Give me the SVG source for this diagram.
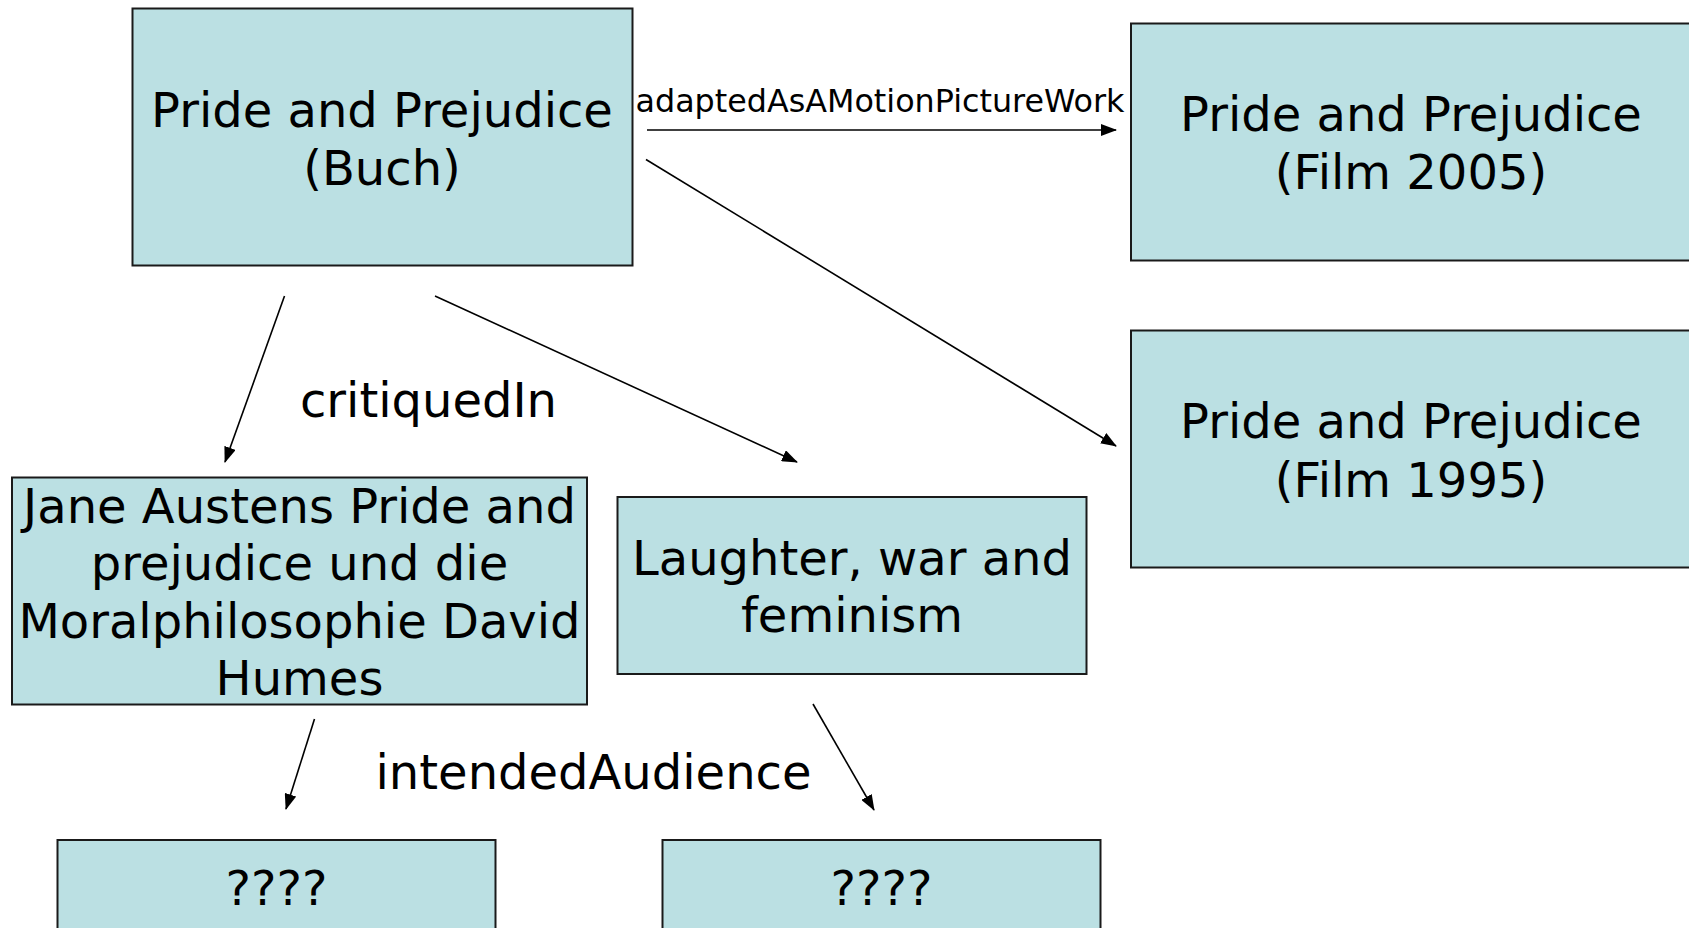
<svg xmlns="http://www.w3.org/2000/svg" width="1689" height="928" viewBox="0 0 1689 928">
<style>
.box{fill:#BBE0E3;stroke:#1a1a1a;stroke-width:2}
.t{font-family:"DejaVu Sans","Liberation Sans",sans-serif;font-size:48px;fill:#000;text-anchor:middle}
.lbl{font-family:"DejaVu Sans","Liberation Sans",sans-serif;fill:#000;text-anchor:middle}
.edge{stroke:#000;stroke-width:1.6;fill:none;marker-end:url(#ah)}
</style>
<defs>
<marker id="ah" markerUnits="userSpaceOnUse" markerWidth="16" markerHeight="12" refX="15" refY="6" orient="auto">
<path d="M0,0 L16,6 L0,12 Z" fill="#000"/>
</marker>
</defs>
<rect width="1689" height="928" fill="#fff"/>
<g id="n-buch">
<rect class="box" x="132.5" y="8.5" width="500" height="257"/>
<text class="t" x="382" y="127">Pride and Prejudice</text>
<text class="t" x="382" y="185">(Buch)</text>
</g>
<g id="n-film2005">
<rect class="box" x="1131" y="23.5" width="570" height="237"/>
<text class="t" x="1411" y="131">Pride and Prejudice</text>
<text class="t" x="1411" y="189">(Film 2005)</text>
</g>
<g id="n-film1995">
<rect class="box" x="1131" y="330.5" width="570" height="237"/>
<text class="t" x="1411" y="438">Pride and Prejudice</text>
<text class="t" x="1411" y="497">(Film 1995)</text>
</g>
<g id="n-jane">
<rect class="box" x="12" y="477.5" width="575" height="227"/>
<text class="t" x="299.5" y="523">Jane Austens Pride and</text>
<text class="t" x="299.5" y="580">prejudice und die</text>
<text class="t" x="299.5" y="638">Moralphilosophie David</text>
<text class="t" x="299.5" y="695">Humes</text>
</g>
<g id="n-laughter">
<rect class="box" x="617.5" y="497" width="469" height="177"/>
<text class="t" x="852" y="575">Laughter, war and</text>
<text class="t" x="852" y="632">feminism</text>
</g>
<g id="n-q1">
<rect class="box" x="57.5" y="840" width="438" height="100"/>
<text class="t" x="276.5" y="905">????</text>
</g>
<g id="n-q2">
<rect class="box" x="662.5" y="840" width="438" height="100"/>
<text class="t" x="881.5" y="905">????</text>
</g>
<g id="connectors">
<line class="edge" x1="647" y1="130" x2="1116" y2="130"/>
<line class="edge" x1="646" y1="159.5" x2="1116" y2="446"/>
<line class="edge" x1="284.5" y1="296" x2="225" y2="462"/>
<line class="edge" x1="435" y1="296" x2="797" y2="462"/>
<line class="edge" x1="314.5" y1="719" x2="286" y2="809"/>
<line class="edge" x1="813" y1="704" x2="874" y2="810"/>
<text class="lbl" x="880" y="112" font-size="31.5" textLength="489" lengthAdjust="spacingAndGlyphs">adaptedAsAMotionPictureWork</text>
<text class="lbl" x="428.5" y="417" font-size="48">critiquedIn</text>
<text class="lbl" x="593.5" y="789" font-size="48">intendedAudience</text>
</g>
</svg>
